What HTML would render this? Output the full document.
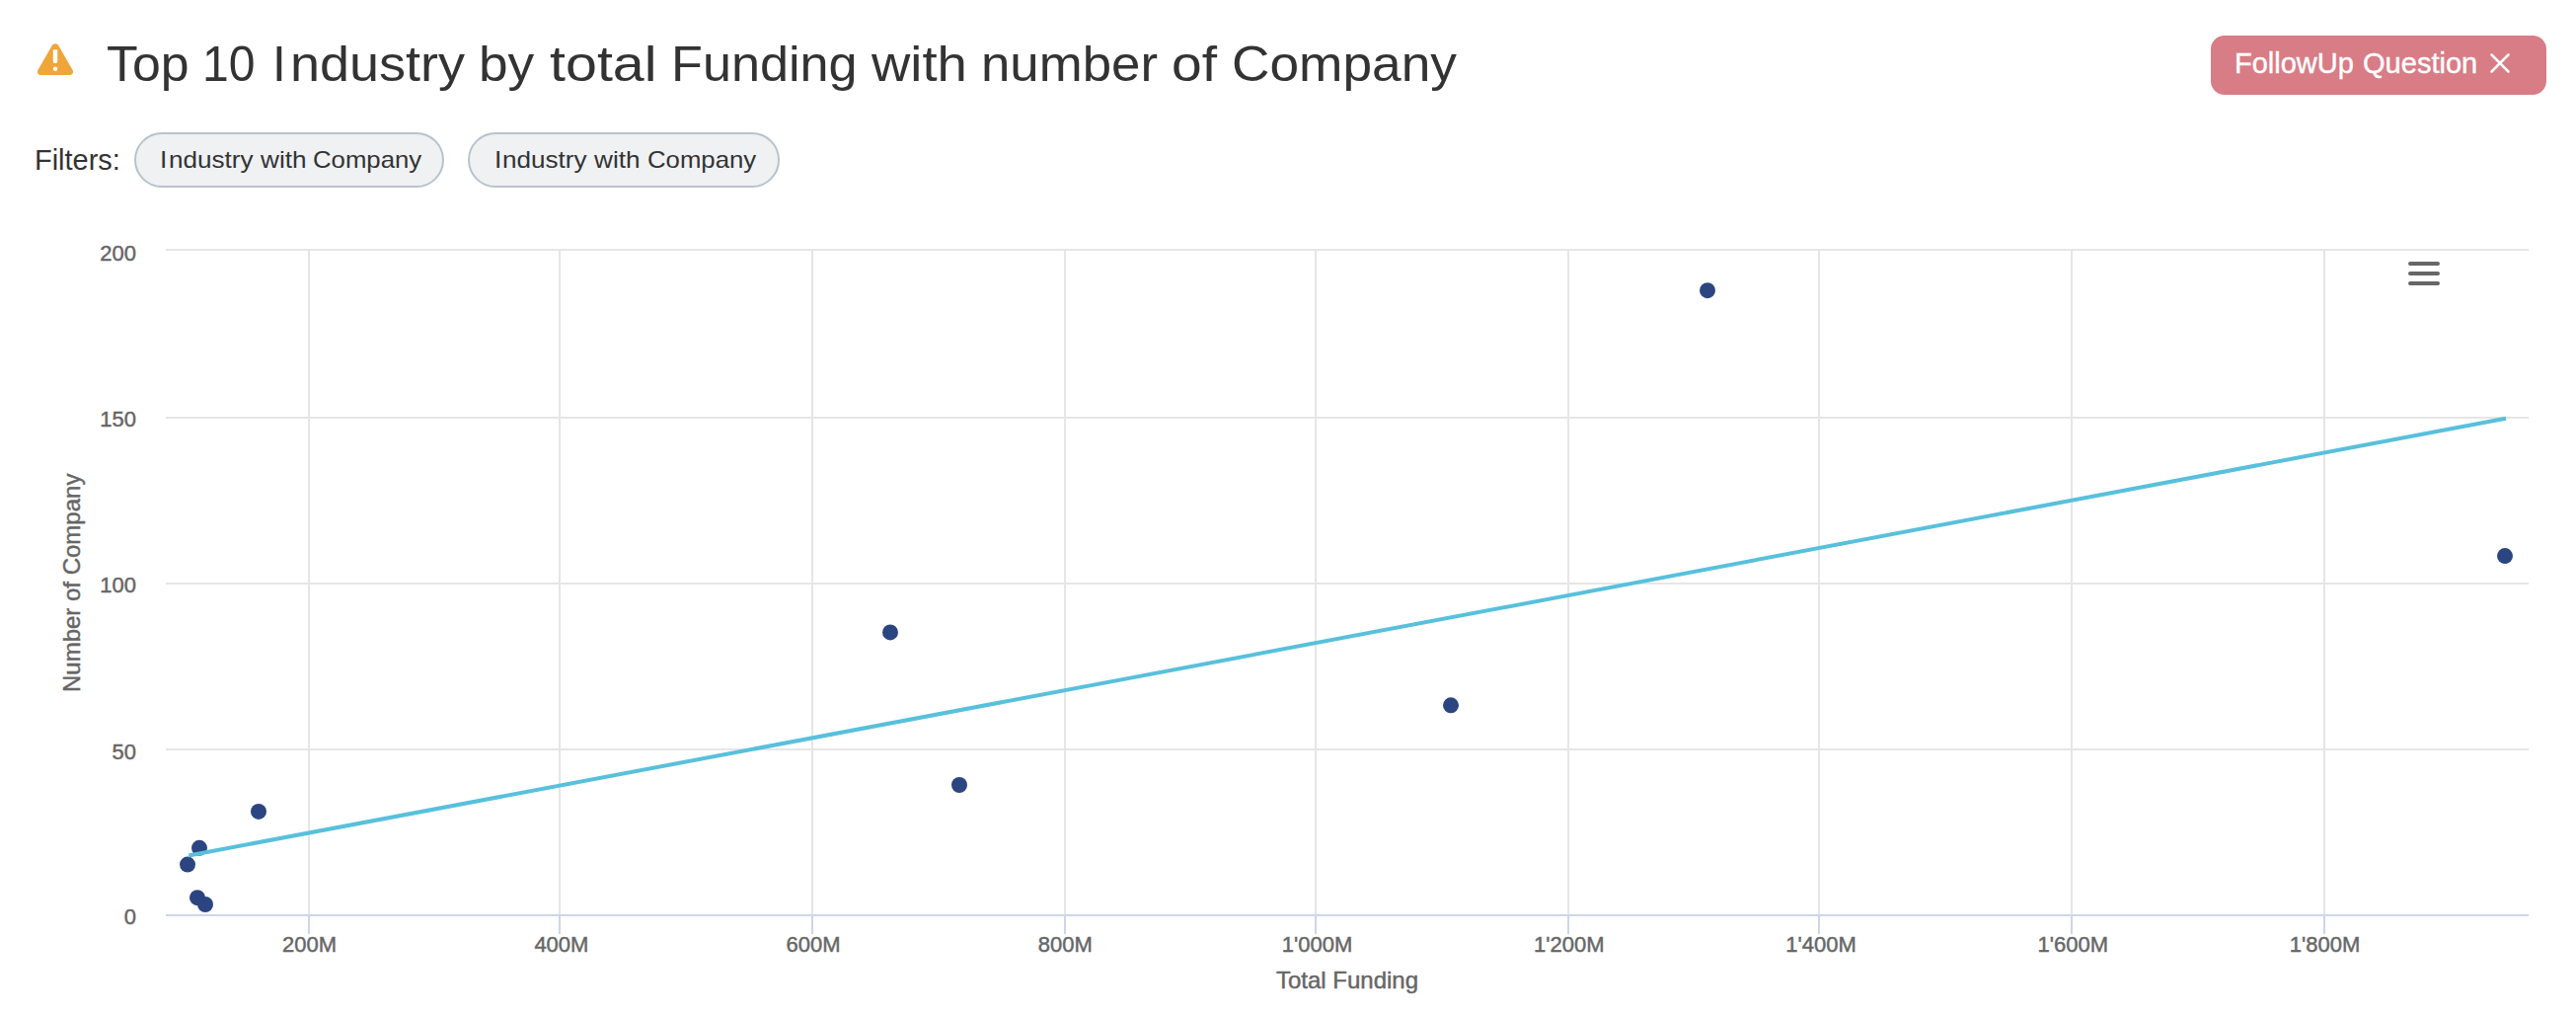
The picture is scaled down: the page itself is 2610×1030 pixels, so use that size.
<!DOCTYPE html>
<html lang="en">
<head>
<meta charset="utf-8">
<title>Top 10 Industry by total Funding with number of Company</title>
<style>
  html, body { margin: 0; padding: 0; background: #ffffff; }
  body { width: 2610px; height: 1030px; position: relative; overflow: hidden;
         font-family: "Liberation Sans", sans-serif; color: #333333; }
  .abs { position: absolute; white-space: nowrap; transform-origin: 0 0; }
  .tw { top: 35.4px; font-size: 49.7px; line-height: 60px; color: #333333; }
  #warn { position: absolute; left: 36px; top: 42px; width: 40px; height: 36px; }
  #filters-label { left: 34.64px; top: 144px; font-size: 29.5px; line-height: 36px; color: #333333; transform: scaleX(0.981); }
  .pill { position: absolute; top: 134px; height: 52px; border: 2px solid #b7c3cd; border-radius: 28px;
          background: #eff1f3; box-sizing: content-box; }
  #pill1 { left: 136px; width: 310px; }
  #pill2 { left: 474px; width: 312px; }
  .pilltxt { font-size: 24px; line-height: 30px; color: #333333; top: 147px; }
  #btn { position: absolute; left: 2240px; top: 36px; width: 340px; height: 60px; border-radius: 14px;
         background: #d87c86; }
  .bw { top: 46.3px; font-size: 28.6px; line-height: 36px; color: #ffffff; -webkit-text-stroke: 0.4px #ffffff; }
  #btnx { position: absolute; left: 2520.4px; top: 51.1px; width: 26px; height: 26px; }
  #chart { position: absolute; left: 0; top: 0; width: 2610px; height: 1030px; }
  #chart text { font-family: "Liberation Sans", sans-serif; fill: #666666; stroke: #666666; stroke-width: 0.45px; }
</style>
</head>
<body>

<svg id="warn" viewBox="0 0 40 36">
  <path d="M20 2.2 C21.4 2.2 22.5 2.9 23.2 4.1 L37.6 29 C38.9 31.3 37.3 34 34.6 34 L5.4 34 C2.7 34 1.1 31.3 2.4 29 L16.8 4.1 C17.5 2.9 18.6 2.2 20 2.2 Z" fill="#f0a53a"/>
  <path d="M18.75 8.3 H21.25 Q22.25 8.3 22.25 9.3 V20 Q22.25 22.2 20 22.2 Q17.75 22.2 17.75 20 V9.3 Q17.75 8.3 18.75 8.3 Z" fill="#ffffff"/>
  <circle cx="20" cy="27.7" r="2.3" fill="#ffffff"/>
</svg>

<div id="title"><span class="abs tw" style="left:108.06px;transform:scaleX(1.0429)">Top</span> <span class="abs tw" style="left:205.13px;transform:scaleX(0.9673)">10</span> <span class="abs tw" style="left:275.95px;transform:scaleX(1.0)">I</span><span class="abs tw" style="left:293.84px;transform:scaleX(1.0869)">ndustry</span> <span class="abs tw" style="left:485.39px;transform:scaleX(1.0714)">by</span> <span class="abs tw" style="left:557.14px;transform:scaleX(1.1556)">total</span> <span class="abs tw" style="left:679.70px;transform:scaleX(1.0506)">Funding</span> <span class="abs tw" style="left:883.40px;transform:scaleX(1.0965)">with</span> <span class="abs tw" style="left:994.31px;transform:scaleX(1.0624)">number</span> <span class="abs tw" style="left:1186.68px;transform:scaleX(1.11)">of</span> <span class="abs tw" style="left:1247.68px;transform:scaleX(1.0722)">Company</span></div>

<div id="btn"></div>
<div id="btntxt"><span class="abs bw" style="left:2264.4px;transform:scaleX(1.014)">FollowUp</span> <span class="abs bw" style="left:2393.65px;transform:scaleX(1.0156)">Question</span></div>
<svg id="btnx" viewBox="0 0 26 26">
  <path d="M4.5 4.5 L21.5 21.5 M21.5 4.5 L4.5 21.5" stroke="#ffffff" stroke-width="2.5" stroke-linecap="round" fill="none"/>
</svg>

<div id="filters-label" class="abs">Filters:</div>
<div id="pill1" class="pill"></div>
<div id="pill2" class="pill"></div>
<div id="pt1"><span class="abs pilltxt" style="left:162.10px;transform:scaleX(1.1)">I</span><span class="abs pilltxt" style="left:170.96px;transform:scaleX(1.087)">ndustry</span> <span class="abs pilltxt" style="left:263.95px;transform:scaleX(1.0902)">with</span> <span class="abs pilltxt" style="left:317.14px;transform:scaleX(1.0725)">Company</span></div>
<div id="pt2"><span class="abs pilltxt" style="left:500.50px;transform:scaleX(1.1)">I</span><span class="abs pilltxt" style="left:509.36px;transform:scaleX(1.087)">ndustry</span> <span class="abs pilltxt" style="left:602.35px;transform:scaleX(1.0902)">with</span> <span class="abs pilltxt" style="left:655.54px;transform:scaleX(1.0725)">Company</span></div>

<svg id="chart" viewBox="0 0 2610 1030">
  <rect x="168" y="252" width="2394" height="2" fill="#e6e6e6"/>
  <rect x="168" y="422" width="2394" height="2" fill="#e6e6e6"/>
  <rect x="168" y="590" width="2394" height="2" fill="#e6e6e6"/>
  <rect x="168" y="758" width="2394" height="2" fill="#e6e6e6"/>
  <rect x="312" y="252" width="2" height="675" fill="#e6e6e6"/>
  <rect x="566" y="252" width="2" height="675" fill="#e6e6e6"/>
  <rect x="822" y="252" width="2" height="675" fill="#e6e6e6"/>
  <rect x="1078" y="252" width="2" height="675" fill="#e6e6e6"/>
  <rect x="1332" y="252" width="2" height="675" fill="#e6e6e6"/>
  <rect x="1588" y="252" width="2" height="675" fill="#e6e6e6"/>
  <rect x="1842" y="252" width="2" height="675" fill="#e6e6e6"/>
  <rect x="2098" y="252" width="2" height="675" fill="#e6e6e6"/>
  <rect x="2354" y="252" width="2" height="675" fill="#e6e6e6"/>
  <rect x="168" y="926" width="2394" height="2" fill="#ccd6eb"/>
  <rect x="312" y="926" width="2" height="20" fill="#ccd6eb"/>
  <rect x="566" y="926" width="2" height="20" fill="#ccd6eb"/>
  <rect x="822" y="926" width="2" height="20" fill="#ccd6eb"/>
  <rect x="1078" y="926" width="2" height="20" fill="#ccd6eb"/>
  <rect x="1332" y="926" width="2" height="20" fill="#ccd6eb"/>
  <rect x="1588" y="926" width="2" height="20" fill="#ccd6eb"/>
  <rect x="1842" y="926" width="2" height="20" fill="#ccd6eb"/>
  <rect x="2098" y="926" width="2" height="20" fill="#ccd6eb"/>
  <rect x="2354" y="926" width="2" height="20" fill="#ccd6eb"/>
  <circle cx="190" cy="875.6" r="8" fill="#2b4580"/>
  <circle cx="202" cy="858.8" r="8" fill="#2b4580"/>
  <circle cx="200" cy="909.2" r="8" fill="#2b4580"/>
  <circle cx="208" cy="916.0" r="8" fill="#2b4580"/>
  <circle cx="262" cy="821.9" r="8" fill="#2b4580"/>
  <circle cx="902" cy="640.4" r="8" fill="#2b4580"/>
  <circle cx="972" cy="795.0" r="8" fill="#2b4580"/>
  <circle cx="1470" cy="714.3" r="8" fill="#2b4580"/>
  <circle cx="1730" cy="294.2" r="8" fill="#2b4580"/>
  <circle cx="2538" cy="563.1" r="8" fill="#2b4580"/>
  <path d="M191.2 866.5 L2539 423.8" stroke="#58c0dc" stroke-width="4" fill="none" stroke-linecap="butt"/>
  <text x="138" y="263.8" font-size="22" text-anchor="end">200</text>
  <text x="138" y="432.3" font-size="22" text-anchor="end">150</text>
  <text x="138" y="600.3" font-size="22" text-anchor="end">100</text>
  <text x="138" y="768.7" font-size="22" text-anchor="end">50</text>
  <text x="138" y="936.3" font-size="22" text-anchor="end">0</text>
  <text x="313.6" y="963.9" font-size="22" text-anchor="middle">200M</text>
  <text x="568.9" y="963.9" font-size="22" text-anchor="middle">400M</text>
  <text x="824.1" y="963.9" font-size="22" text-anchor="middle">600M</text>
  <text x="1079.3" y="963.9" font-size="22" text-anchor="middle">800M</text>
  <text x="1334.6" y="963.9" font-size="22" text-anchor="middle">1'000M</text>
  <text x="1589.8" y="963.9" font-size="22" text-anchor="middle">1'200M</text>
  <text x="1845.1" y="963.9" font-size="22" text-anchor="middle">1'400M</text>
  <text x="2100.3" y="963.9" font-size="22" text-anchor="middle">1'600M</text>
  <text x="2355.6" y="963.9" font-size="22" text-anchor="middle">1'800M</text>
  <text x="1365" y="1001.3" font-size="24" text-anchor="middle">Total Funding</text>
  <text transform="translate(81,590.3) rotate(-90)" font-size="24" text-anchor="middle">Number of Company</text>
  <path d="M2442 267 H2470 M2442 277 H2470 M2442 287 H2470" stroke="#666666" stroke-width="4" stroke-linecap="round" fill="none"/>
</svg>

</body>
</html>
